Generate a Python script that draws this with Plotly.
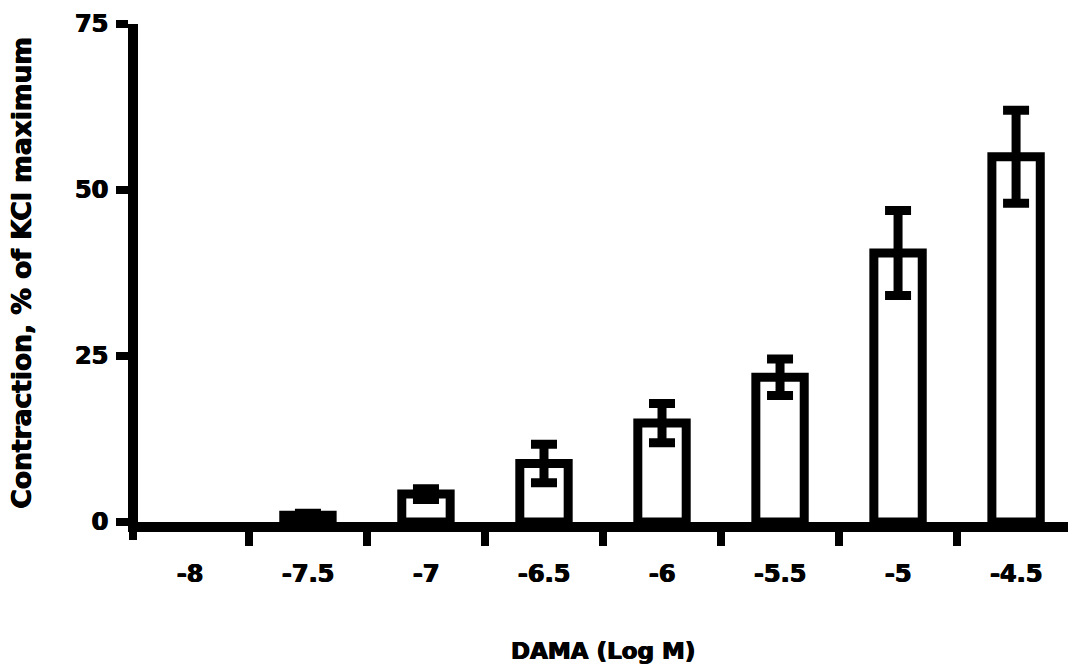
import plotly.graph_objects as go

categories = ["-8", "-7.5", "-7", "-6.5", "-6", "-5.5", "-5", "-4.5"]
contraction = [0.0, 1.0, 4.2, 8.8, 14.9, 21.8, 40.5, 55.0]
sem = [0.0, 0.3, 0.8, 2.9, 2.95, 2.75, 6.4, 7.0]
y_ticks = [0, 25, 50, 75]

FONT = "DejaVu Sans"
HEAVY = "0.8px 0px 0px black, -0.4px 0px 0px black"

def tfont(size):
    return dict(family=FONT, size=size, weight="bold", color="black", shadow=HEAVY)

# a zero response draws no visible bar or error bar
bar_vals = [v if v > 0 else None for v in contraction]
err_vals = [e if v > 0 else None for v, e in zip(contraction, sem)]

fig = go.Figure()
fig.add_trace(go.Bar(
    x=categories,
    y=bar_vals,
    width=0.41,
    marker=dict(color="white", line=dict(color="black", width=9)),
    error_y=dict(type="data", array=err_vals, visible=True, color="black",
                 thickness=9, width=13),
    showlegend=False,
))

fig.update_layout(
    width=1068, height=664,
    margin=dict(l=138, r=0, t=24, b=142),
    plot_bgcolor="white", paper_bgcolor="white",
    font=dict(family=FONT, color="black"),
    xaxis=dict(
        type="category",
        categoryorder="array", categoryarray=categories,
        range=[-0.44, 7.44],
        tickson="boundaries",
        ticks="outside", ticklen=14, tickwidth=8, tickcolor="black",
        showline=True, linewidth=10, linecolor="black",
        showgrid=False, zeroline=False,
        tickfont=tfont(24),
        ticklabelstandoff=21,
        title=dict(text="DAMA (Log M)", standoff=60, font=tfont(23)),
    ),
    yaxis=dict(
        range=[0, 75],
        tickvals=y_ticks,
        ticks="outside", ticklen=12, tickwidth=8, tickcolor="black",
        showline=True, linewidth=10, linecolor="black",
        showgrid=False, zeroline=False,
        tickfont=tfont(24),
        ticklabelstandoff=3,
        title=dict(text="Contraction, % of KCl maximum", standoff=40, font=tfont(26.5)),
    ),
)

# small downward extension of the y-axis line at the origin corner
fig.add_shape(type="line", xref="paper", yref="paper",
              x0=-5/930, x1=-5/930, y0=0, y1=-18/498,
              line=dict(color="black", width=8))

fig.write_html("out.html")
